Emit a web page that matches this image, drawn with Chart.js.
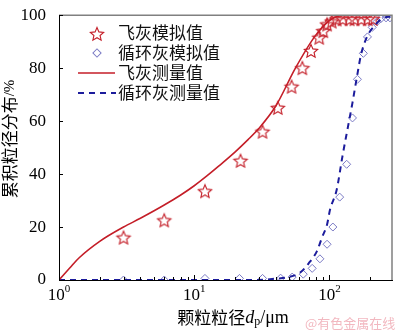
<!DOCTYPE html>
<html><head><meta charset="utf-8">
<script src="https://cdn.jsdelivr.net/npm/chart.js@4"></script>
<style>html,body{margin:0;padding:0;background:#fff}#wrap{width:400px;height:331px}</style>
</head><body><div id="wrap"><canvas id="c" width="400" height="331"></canvas></div>
<script>
// ---- data ----
const flyAshSimX = [3, 6, 12, 22, 32, 41.5, 52.5, 63, 73, 84, 90, 96, 104, 113, 125, 141, 153, 172, 192, 209];
const flyAshSimY = [16, 22.5, 33.5, 45, 56, 65, 73, 80, 86.5, 91.5, 94, 96.5, 97.6, 98.4, 98.5, 98.5, 98.5, 98.5, 98.5, 98.6];
const circSimX = [3, 6, 12, 21.6, 32, 43.5, 53, 64, 74.5, 85, 96, 106, 119, 134, 148, 161, 178, 191, 207, 225, 240, 262, 280];
const circSimY = [0, 0, 0.6, 0.6, 0.6, 0.7, 1.1, 2.2, 4.4, 8, 13.5, 20, 31.3, 43.7, 61.2, 75.8, 85.6, 91.8, 95.4, 97.6, 98.7, 99, 99];
const flyAshMeasX = [1, 1.2, 1.41, 2, 3, 4, 6, 8, 10, 12.4, 15, 20, 25, 30, 40, 56, 78, 100, 118, 150, 290];
const flyAshMeasY = [0, 4.5, 8.4, 14.6, 20, 23.3, 28.3, 32.2, 35.6, 39.3, 42.8, 48.3, 53, 57.2, 65.6, 80, 92, 98, 99.7, 100, 100];
const circMeasX = [1, 10, 30, 40, 50, 61, 70, 81, 88, 96, 101, 113, 125, 136, 148, 160, 171, 190, 220, 250, 290];
const circMeasY = [0, 0, 0, 0.5, 1.1, 2.9, 6.2, 11, 16, 21, 26.6, 34, 47, 57, 67, 77, 85, 92, 96.5, 99, 99.5];
const yTicks = [0, 20, 40, 60, 80, 100];
const xMajorTicks = [1, 10, 100];
const xMinorTicks = [2,3,4,5,6,7,8,9,20,30,40,50,60,70,80,90,200];
const legendLabels = ['飞灰模拟值', '循环灰模拟值', '飞灰测量值', '循环灰测量值'];
const xTitleCJK = '颗粒粒径';
const yTitle = '累积粒径分布';

const RED = '#c41e28', BLUE = '#1c1c9c', DIA = '#7a7ac4';
const NUMFONT = '"Liberation Serif", "DejaVu Serif", serif';
const CJKFONT = '"Noto Sans CJK SC", sans-serif';

function makeStar(r) {
  const s = Math.ceil(r * 2 + 4);
  const cv = document.createElement('canvas');
  cv.width = s; cv.height = s;
  const g = cv.getContext('2d');
  g.translate(s / 2, s / 2 + 0.5);
  g.beginPath();
  for (let i = 0; i < 10; i++) {
    const rr = i % 2 === 0 ? r : r * 0.46;
    const a = -Math.PI / 2 + i * Math.PI / 5;
    const px = rr * Math.cos(a), py = rr * Math.sin(a);
    i === 0 ? g.moveTo(px, py) : g.lineTo(px, py);
  }
  g.closePath();
  g.strokeStyle = RED; g.lineWidth = 1.1; g.stroke();
  return cv;
}
const starImg = makeStar(7);

const pts = (xs, ys) => xs.map((x, i) => ({x, y: ys[i]}));

const decor = {
  id: 'decor',
  afterDraw(chart) {
    const ctx = chart.ctx, a = chart.chartArea;
    const xs = chart.scales.x, ys = chart.scales.y;
    ctx.save();
    ctx.strokeStyle = '#808080'; ctx.lineWidth = 1.5;
    ctx.beginPath(); ctx.moveTo(a.left, a.top); ctx.lineTo(a.right, a.top); ctx.lineTo(a.right, a.bottom); ctx.stroke();
    ctx.strokeStyle = '#000'; ctx.lineWidth = 1;
    yTicks.forEach(v => { const y = Math.round(ys.getPixelForValue(v)) + 0.5; ctx.beginPath(); ctx.moveTo(a.left, y); ctx.lineTo(a.left + 4, y); ctx.stroke(); });
    xMajorTicks.forEach(v => { const x = Math.round(xs.getPixelForValue(v)) + 0.5; ctx.beginPath(); ctx.moveTo(x, a.bottom); ctx.lineTo(x, a.bottom - 5); ctx.stroke(); });
    xMinorTicks.forEach(v => { const x = Math.round(xs.getPixelForValue(v)) + 0.5; ctx.beginPath(); ctx.moveTo(x, a.bottom); ctx.lineTo(x, a.bottom - 3); ctx.stroke(); });
    ctx.fillStyle = '#000'; ctx.textBaseline = 'alphabetic';
    xMajorTicks.forEach(v => {
      const x = xs.getPixelForValue(v);
      const e = String(Math.round(Math.log10(v)));
      ctx.font = '17px ' + NUMFONT; const w1 = ctx.measureText('10').width;
      ctx.font = '11px ' + NUMFONT; const w2 = ctx.measureText(e).width;
      const x0 = x - (w1 + w2) / 2;
      ctx.font = '17px ' + NUMFONT; ctx.textAlign = 'left'; ctx.fillText('10', x0, 300);
      ctx.font = '11px ' + NUMFONT; ctx.fillText(e, x0 + w1, 292);
    });
    ctx.textBaseline = 'middle';
    const parts = [
      {t: xTitleCJK, f: '17px ' + CJKFONT, dy: 0},
      {t: 'd', f: 'italic 18px ' + NUMFONT, dy: 0},
      {t: 'p', f: '12px ' + NUMFONT, dy: 4},
      {t: '/μm', f: '18px ' + NUMFONT, dy: 0}
    ];
    let tw = 0; parts.forEach(p => { ctx.font = p.f; p.w = ctx.measureText(p.t).width; tw += p.w; });
    let cx = 233 - tw / 2;
    parts.forEach(p => { ctx.font = p.f; ctx.fillText(p.t, cx, 318 + p.dy); cx += p.w; });
    ctx.save();
    ctx.translate(10, 139); ctx.rotate(-Math.PI / 2);
    ctx.font = '17px ' + CJKFONT; const yw1 = ctx.measureText(yTitle).width;
    ctx.font = '15px ' + NUMFONT; const yw2 = ctx.measureText('/%').width;
    let yx = -(yw1 + yw2) / 2;
    ctx.font = '17px ' + CJKFONT; ctx.fillText(yTitle, yx, 0);
    ctx.font = '15px ' + NUMFONT; ctx.fillText('/%', yx + yw1, 0);
    ctx.restore();
    const rows = [33, 53, 73, 93];
    ctx.drawImage(starImg, 97 - starImg.width / 2, rows[0] + 1 - starImg.height / 2);
    ctx.save(); ctx.translate(97, rows[1]); ctx.rotate(Math.PI / 4);
    ctx.strokeStyle = DIA; ctx.lineWidth = 1; ctx.strokeRect(-2.9, -2.9, 5.8, 5.8); ctx.restore();
    ctx.strokeStyle = RED; ctx.lineWidth = 1.6;
    ctx.beginPath(); ctx.moveTo(78, rows[2]); ctx.lineTo(115, rows[2]); ctx.stroke();
    ctx.strokeStyle = BLUE; ctx.lineWidth = 2; ctx.setLineDash([6, 5]);
    ctx.beginPath(); ctx.moveTo(78, rows[3]); ctx.lineTo(116, rows[3]); ctx.stroke();
    ctx.setLineDash([]);
    ctx.fillStyle = '#111'; ctx.font = '17px ' + CJKFONT; ctx.textAlign = 'left';
    legendLabels.forEach((l, i) => ctx.fillText(l, 118, rows[i]));
    ctx.fillStyle = '#f2b8c0'; ctx.font = '13px ' + CJKFONT;
    ctx.fillText('@有色金属在线', 305, 323);
    ctx.restore();
  }
};

new Chart(document.getElementById('c'), {
  type: 'scatter',
  data: {
    datasets: [
      {label: legendLabels[2], type: 'line', data: pts(flyAshMeasX, flyAshMeasY), borderColor: RED, borderWidth: 1.6, pointRadius: 0, cubicInterpolationMode: 'monotone', fill: false},
      {label: legendLabels[3], type: 'line', data: pts(circMeasX, circMeasY), borderColor: BLUE, borderWidth: 2, borderDash: [6, 5], pointRadius: 0, cubicInterpolationMode: 'monotone', fill: false},
      {label: legendLabels[0], data: pts(flyAshSimX, flyAshSimY), pointStyle: starImg, pointRadius: 7, backgroundColor: 'rgba(0,0,0,0)', borderColor: RED},
      {label: legendLabels[1], data: pts(circSimX, circSimY), pointStyle: 'rectRot', pointRadius: 4, borderColor: DIA, backgroundColor: 'rgba(0,0,0,0)', borderWidth: 1}
    ]
  },
  options: {
    responsive: false, animation: false,
    layout: {padding: {top: 7, right: 2, left: 0, bottom: 0}},
    plugins: {legend: {display: false}, tooltip: {enabled: false}},
    scales: {
      x: {type: 'logarithmic', min: 1, max: 290,
          ticks: {display: false}, grid: {display: false},
          border: {display: true, color: '#000', width: 1},
          afterFit(s) { s.height = 51; }},
      y: {type: 'linear', min: 0, max: 100,
          afterBuildTicks(s) { s.ticks = yTicks.map(v => ({value: v})); },
          ticks: {font: {family: NUMFONT, size: 17}, color: '#000', padding: 5},
          grid: {display: false},
          border: {display: true, color: '#000', width: 1},
          afterFit(s) { s.width = 59; }}
    }
  },
  plugins: [decor]
});
</script></body></html>
